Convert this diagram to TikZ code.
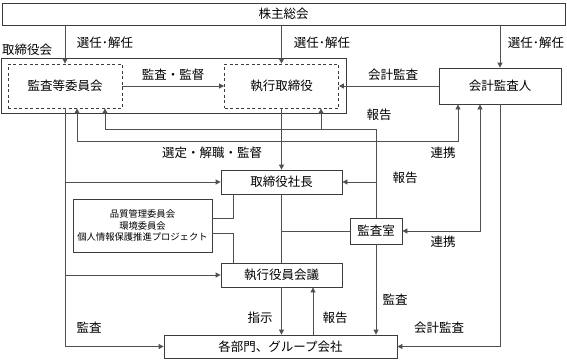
\documentclass[tikz,border=0pt]{standalone}
\usepackage{fontspec}
\setmainfont{Noto Sans CJK JP}
\usetikzlibrary{arrows.meta,calc}
\definecolor{LnGray}{RGB}{80,80,80}
\definecolor{BxLine}{RGB}{60,60,60}
\tikzset{
  nd_box/.style={rectangle,draw=BxLine,line width=0.8pt,inner sep=0pt,font=\fontsize{12.5}{14}\selectfont},
  nd_dash/.style={nd_box,dash pattern=on 3pt off 2.5pt},
  nd_lbl/.style={inner sep=0pt,font=\fontsize{12.5}{14}\selectfont},
  ln/.style={draw=LnGray,line width=0.8pt},
  arr/.style={ln,-{Triangle[length=5pt,width=5pt]}},
  arr2/.style={ln,{Triangle[length=5pt,width=5pt]}-{Triangle[length=5pt,width=5pt]}},
}
\begin{document}
\begin{tikzpicture}[x=1pt,y=-1pt]
\useasboundingbox (0,0) rectangle (567,360);
% top
\node[nd_box,minimum width=563pt,minimum height=22pt] at (283.5,14)(soukai){株主総会};
\node[nd_box,minimum width=345pt,minimum height=55pt] at (173.5,85.5)(board){};
\node[nd_lbl,anchor=west] at (2,50)(boardlbl){取締役会};
\node[nd_dash,minimum width=114pt,minimum height=44pt] at (65,86)(audit){監査等委員会};
\node[nd_dash,minimum width=114pt,minimum height=44pt] at (281.5,86)(exec){執行取締役};
\node[nd_box,minimum width=122pt,minimum height=36pt] at (500,86)(kaikei){会計監査人};
% middle
\node[nd_box,minimum width=121pt,minimum height=24pt] at (281.5,182)(pres){取締役社長};
\node[nd_box,minimum width=139pt,minimum height=53pt,align=center,font=\fontsize{9.3}{11.5}\selectfont] at (142.5,225.5)(cmte){品質管理委員会\\環境委員会\\個人情報保護推進プロジェクト};
\node[nd_box,minimum width=52pt,minimum height=26pt] at (376,231)(kansa){監査室};
\node[nd_box,minimum width=121pt,minimum height=24pt] at (281.5,275)(yakuin){執行役員会議};
% bottom
\node[nd_box,minimum width=233pt,minimum height=23pt] at (280.5,346.5)(bumon){各部門、グループ会社};
% labels
\node[nd_lbl] at (105,43)(sel1){選任･解任};
\node[nd_lbl] at (322,43)(sel2){選任･解任};
\node[nd_lbl] at (536,43)(sel3){選任･解任};
\node[nd_lbl] at (173,75)(lkan){監査・監督};
\node[nd_lbl] at (393,75)(lkai1){会計監査};
\node[nd_lbl] at (379,115)(lhou1){報告};
\node[nd_lbl] at (443,153)(lren1){連携};
\node[nd_lbl] at (212,153)(lsen){選定・解職・監督};
\node[nd_lbl] at (405,178)(lhou2){報告};
\node[nd_lbl] at (443,242)(lren2){連携};
\node[nd_lbl] at (395,300)(lkan2){監査};
\node[nd_lbl] at (89,328)(lkan3){監査};
\node[nd_lbl] at (260,318)(lshi){指示};
\node[nd_lbl] at (335,318)(lhou3){報告};
\node[nd_lbl] at (439,328)(lkai2){会計監査};
% bend points
\coordinate (hq1) at (105,129);
\coordinate (hq2) at (321,129);
\coordinate (rA) at (77,141);
\coordinate (rB) at (458,141);
\coordinate (rk) at (480,0);
\coordinate (cm) at (233,0);
\coordinate (hb) at (313,0);
% arrows
\draw[arr](soukai.south -| audit.north)--(audit.north);
\draw[arr](soukai.south -| exec.north)--(exec.north);
\draw[arr](soukai.south -| kaikei.north)--(kaikei.north);
\draw[arr](audit.east)--(exec.west);
\draw[arr](kaikei.west)--(exec.east);
\draw[arr](kansa.north)|-(hq1)--(hq1 |- audit.south);
\draw[arr](hq2)--(hq2 |- exec.south);
\draw[arr2](rA |- audit.south)--(rA)--(rB)--(rB |- kaikei.south);
\draw[arr](exec.south)--(pres.north);
\draw[arr](audit.south)|-(bumon.west);
\draw[arr](audit.south |- pres.west)--(pres.west);
\draw[arr](audit.south |- yakuin.west)--(yakuin.west);
\draw[arr](kansa.north |- pres.east)--(pres.east);
\draw[ln](pres.south)--(yakuin.north);
\draw[ln](kansa.west)--(kansa.west -| pres.south);
\draw[ln]([yshift=7.5pt]cmte.east)-|(cm |- pres.south);
\draw[ln]([yshift=-7.5pt]cmte.east)-|(cm |- yakuin.north);
\draw[arr2](kansa.east)-|(rk |- kaikei.south);
\draw[arr](kaikei.south)|-(bumon.east);
\draw[arr](kansa.south)--(kansa.south |- bumon.north);
\draw[arr](yakuin.south)--(yakuin.south |- bumon.north);
\draw[arr](hb |- bumon.north)--(hb |- yakuin.south);
\end{tikzpicture}
\end{document}
